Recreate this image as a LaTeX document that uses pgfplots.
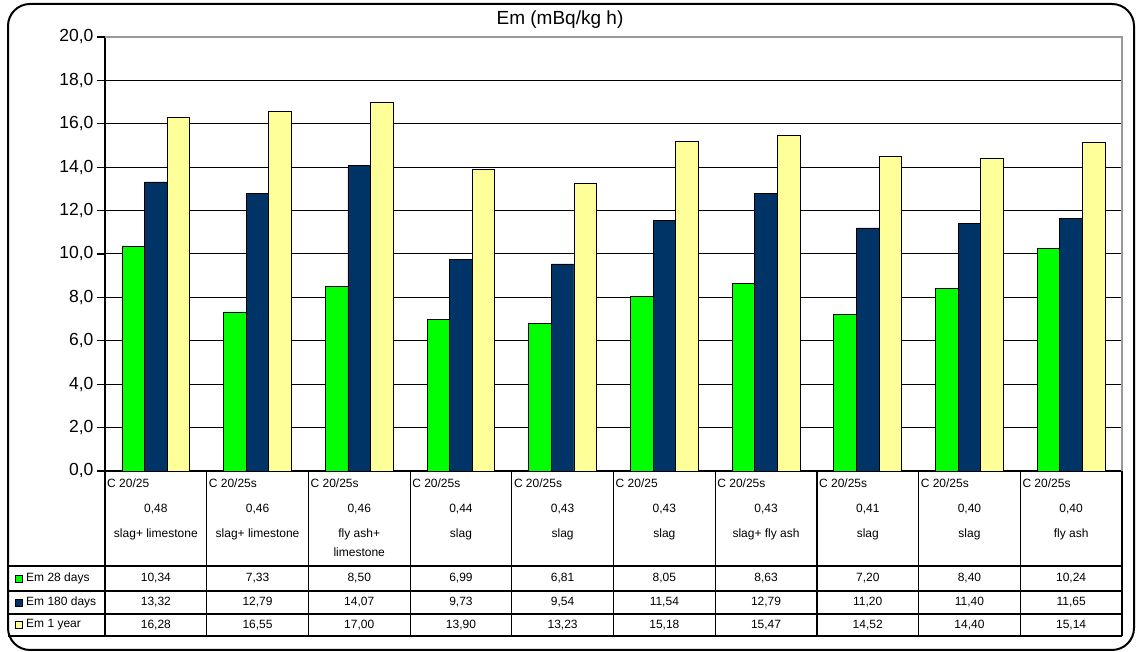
\documentclass[border=0pt]{standalone}
\usepackage{pgfplots}
\pgfplotsset{compat=1.18}
\usepackage{fontspec}
\setmainfont{Liberation Sans}
\definecolor{cgreen}{RGB}{0,255,0}
\definecolor{cnavy}{RGB}{0,51,102}
\definecolor{cyellow}{RGB}{255,255,153}
\newcommand\tfont{\fontsize{12}{14}\selectfont}
\newcommand\col[5]{%
  \node[anchor=base west, font=\tfont, inner sep=0pt] at ({105+#1*101.7+2},164) {#2};
  \node[anchor=base, font=\tfont, inner sep=0pt] at ({105+(#1+0.5)*101.7},139) {#3};
  \node[anchor=base, font=\tfont, inner sep=0pt] at ({105+(#1+0.5)*101.7},114) {#4};
  \node[anchor=base, font=\tfont, inner sep=0pt] at ({105+(#1+0.5)*101.7},95) {#5};}
\begin{document}
\begin{tikzpicture}[x=1pt,y=1pt]
\path (0,0) rectangle (1136,652);
\draw[line width=2pt, rounded corners=22pt] (8,2) rectangle (1134,648);
\begin{axis}[at={(105pt,181pt)}, anchor=south west, scale only axis,
  width=1017pt, height=434pt,
  xmin=-0.5, xmax=9.5, ymin=0, ymax=20,
  ytick={0,2,4,6,8,10,12,14,16,18,20}, xtick=\empty,
  axis x line*=bottom, axis y line*=left,
  ymajorgrids, grid style={black, line width=1pt},
  ybar=0pt, bar width=22.6pt,
  y tick label style={/pgf/number format/.cd, fixed, fixed zerofill, precision=1, use comma, assume math mode=true, /tikz/.cd, font=\fontsize{17.5}{20}\selectfont},
  tick style={black, line width=1.2pt}, major tick length=8pt, tick align=outside,
  axis line style={line width=1.2pt},
  clip=false]
\addplot[fill=cgreen, draw=black, line width=0.8pt] coordinates {(0,10.34) (1,7.33) (2,8.50) (3,6.99) (4,6.81) (5,8.05) (6,8.63) (7,7.20) (8,8.40) (9,10.24)};
\addplot[fill=cnavy, draw=black, line width=0.8pt] coordinates {(0,13.32) (1,12.79) (2,14.07) (3,9.73) (4,9.54) (5,11.54) (6,12.79) (7,11.20) (8,11.40) (9,11.65)};
\addplot[fill=cyellow, draw=black, line width=0.8pt] coordinates {(0,16.28) (1,16.55) (2,17.00) (3,13.90) (4,13.23) (5,15.18) (6,15.47) (7,14.52) (8,14.40) (9,15.14)};
\draw[gray!80, line width=1.2pt] (rel axis cs:0,1) -- (rel axis cs:1,1) -- (rel axis cs:1,0);
\end{axis}
\node at (560,632) {\fontsize{19}{22}\selectfont Em (mBq/kg h)};
% table
\foreach \k in {0,...,10} \draw[line width=1.2pt] ({105+\k*101.7},181) -- ({105+\k*101.7},16);
\foreach \yy in {86,61,38,16} \draw[line width=1.2pt] (8,\yy) -- (1122,\yy);
\col{0}{C 20/25}{0,48}{slag+ limestone}{}
\col{1}{C 20/25s}{0,46}{slag+ limestone}{}
\col{2}{C 20/25s}{0,46}{fly ash+}{limestone}
\col{3}{C 20/25s}{0,44}{slag}{}
\col{4}{C 20/25s}{0,43}{slag}{}
\col{5}{C 20/25}{0,43}{slag}{}
\col{6}{C 20/25s}{0,43}{slag+ fly ash}{}
\col{7}{C 20/25s}{0,41}{slag}{}
\col{8}{C 20/25s}{0,40}{slag}{}
\col{9}{C 20/25s}{0,40}{fly ash}{}
\foreach \v [count=\i from 0] in {{10,34},{7,33},{8,50},{6,99},{6,81},{8,05},{8,63},{7,20},{8,40},{10,24}}
  \node[font=\tfont] at ({105+(\i+0.5)*101.7},73.5) {\v};
\foreach \v [count=\i from 0] in {{13,32},{12,79},{14,07},{9,73},{9,54},{11,54},{12,79},{11,20},{11,40},{11,65}}
  \node[font=\tfont] at ({105+(\i+0.5)*101.7},49.5) {\v};
\foreach \v [count=\i from 0] in {{16,28},{16,55},{17,00},{13,90},{13,23},{15,18},{15,47},{14,52},{14,40},{15,14}}
  \node[font=\tfont] at ({105+(\i+0.5)*101.7},27) {\v};
\draw[fill=cgreen, line width=0.8pt] (15,70) rectangle (22,77);
\draw[fill=cnavy, line width=0.8pt] (15,46) rectangle (22,53);
\draw[fill=cyellow, line width=0.8pt] (15,23.5) rectangle (22,30.5);
\node[font=\tfont, anchor=west, inner sep=0pt] at (26,73.5) {Em 28 days};
\node[font=\tfont, anchor=west, inner sep=0pt] at (26,49.5) {Em 180 days};
\node[font=\tfont, anchor=west, inner sep=0pt] at (26,27) {Em 1 year};
\end{tikzpicture}
\end{document}
